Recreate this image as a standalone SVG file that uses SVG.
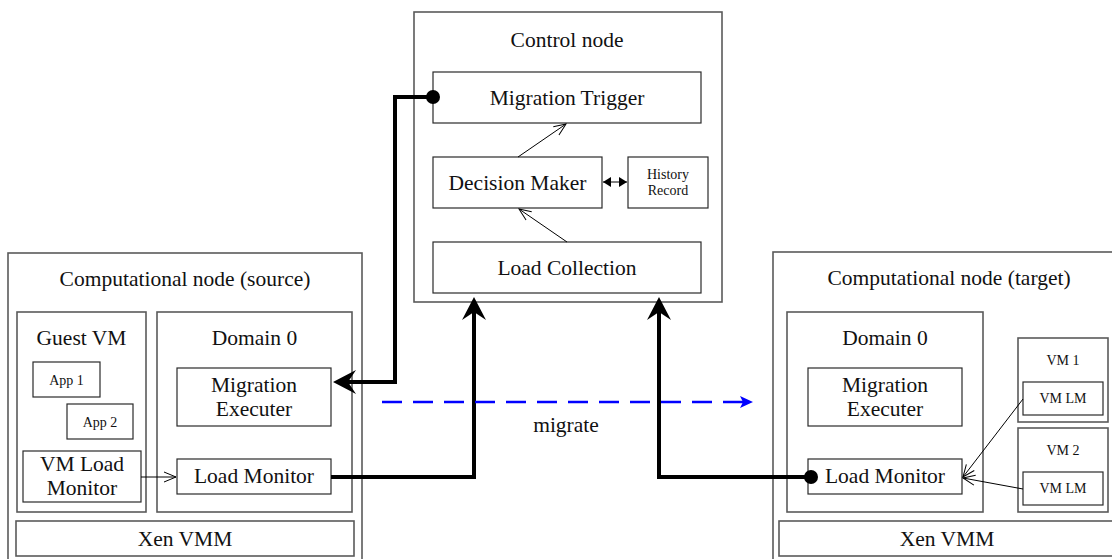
<svg xmlns="http://www.w3.org/2000/svg" width="1112" height="559" viewBox="0 0 1112 559" font-family="'Liberation Serif', 'DejaVu Serif', serif">
  <style>
    .outer { fill: none; stroke: #5a5a5a; stroke-width: 1.6; }
    .box { fill: #ffffff; stroke: #2a2a2a; stroke-width: 1.2; }
    .lbl { font-family: 'Liberation Serif', 'DejaVu Serif', serif; font-size: 21.5px; fill: #111; text-anchor: middle; }
    .sm { font-family: 'Liberation Serif', 'DejaVu Serif', serif; font-size: 14px; fill: #111; text-anchor: middle; }
    .thick { fill: none; stroke: #000; stroke-width: 4; }
    .thin { fill: none; stroke: #000; stroke-width: 1; }
    .dot { fill: #000; }
  </style>
  <defs>
    <marker id="bigHead" markerUnits="userSpaceOnUse" viewBox="-26 -14 30 28" markerWidth="30" markerHeight="28" refX="-10" refY="0" orient="auto" overflow="visible">
      <path d="M0,0 L-23,-12 L-15,0 L-23,12 Z" fill="#000"/>
    </marker>
    <marker id="openHead" markerUnits="userSpaceOnUse" viewBox="-14 -7 16 14" markerWidth="16" markerHeight="14" refX="0" refY="0" orient="auto" overflow="visible">
      <path d="M-12,-5 L0,0 L-12,5" fill="none" stroke="#000" stroke-width="1"/>
    </marker>
    <marker id="smallHead" markerUnits="userSpaceOnUse" viewBox="-9 -5 10 10" markerWidth="10" markerHeight="10" refX="0" refY="0" orient="auto-start-reverse" overflow="visible">
      <path d="M0,0 L-8,-5 L-8,5 Z" fill="#000"/>
    </marker>
    <marker id="blueHead" markerUnits="userSpaceOnUse" viewBox="-14 -7 16 14" markerWidth="16" markerHeight="14" refX="-6" refY="0" orient="auto" overflow="visible">
      <path d="M0,0 L-13,-6 L-10,0 L-13,6 Z" fill="#0000ff"/>
    </marker>
  </defs>

  <!-- Control node -->
  <g id="control-node">
    <rect class="outer" x="414" y="12" width="308" height="290"/>
    <text class="lbl" x="567" y="47">Control node</text>
  </g>
  <g id="migration-trigger">
    <rect class="box" x="433" y="72" width="268" height="51"/>
    <text class="lbl" x="567" y="105">Migration Trigger</text>
  </g>
  <g id="decision-maker">
    <rect class="box" x="433" y="157" width="169" height="51"/>
    <text class="lbl" x="517.5" y="190">Decision Maker</text>
  </g>
  <g id="history-record">
    <rect class="box" x="628" y="157" width="80" height="51"/>
    <text class="sm" x="668" y="179">History</text>
    <text class="sm" x="668" y="195">Record</text>
  </g>
  <g id="load-collection">
    <rect class="box" x="433" y="242" width="268" height="51"/>
    <text class="lbl" x="567" y="275">Load Collection</text>
  </g>

  <!-- Computational node (source) -->
  <g id="source-node">
    <rect class="outer" x="8" y="253" width="354" height="320"/>
    <text class="lbl" x="185" y="286">Computational node (source)</text>
  </g>
  <g id="source-guest-vm">
    <rect class="outer" x="17" y="312" width="129" height="200"/>
    <text class="lbl" x="81.5" y="345">Guest VM</text>
  </g>
  <g id="source-app1">
    <rect class="box" x="33" y="362" width="67" height="35"/>
    <text class="sm" x="66.5" y="384.5">App 1</text>
  </g>
  <g id="source-app2">
    <rect class="box" x="67" y="404" width="66" height="35"/>
    <text class="sm" x="100" y="426.5">App 2</text>
  </g>
  <g id="source-vm-load-monitor">
    <rect class="box" x="23" y="451" width="118" height="51"/>
    <text class="lbl" x="82" y="470.5">VM Load</text>
    <text class="lbl" x="82" y="495">Monitor</text>
  </g>
  <g id="source-domain0">
    <rect class="outer" x="157" y="312" width="195" height="200"/>
    <text class="lbl" x="254.5" y="345">Domain 0</text>
  </g>
  <g id="source-migration-executer">
    <rect class="box" x="177" y="368" width="154" height="58"/>
    <text class="lbl" x="254" y="392">Migration</text>
    <text class="lbl" x="254" y="416">Executer</text>
  </g>
  <g id="source-load-monitor">
    <rect class="box" x="177" y="459" width="154" height="35"/>
    <text class="lbl" x="254" y="483">Load Monitor</text>
  </g>
  <g id="source-xen-vmm">
    <rect class="outer" x="16" y="521" width="338" height="35"/>
    <text class="lbl" x="185" y="546">Xen VMM</text>
  </g>

  <!-- Computational node (target) -->
  <g id="target-node">
    <rect class="outer" x="773" y="252" width="360" height="320"/>
    <text class="lbl" x="949" y="285">Computational node (target)</text>
  </g>
  <g id="target-domain0">
    <rect class="outer" x="787" y="312" width="196" height="200"/>
    <text class="lbl" x="885" y="345">Domain 0</text>
  </g>
  <g id="target-migration-executer">
    <rect class="box" x="808" y="368" width="154" height="58"/>
    <text class="lbl" x="885" y="392">Migration</text>
    <text class="lbl" x="885" y="416">Executer</text>
  </g>
  <g id="target-load-monitor">
    <rect class="box" x="808" y="459" width="154" height="35"/>
    <text class="lbl" x="885" y="483">Load Monitor</text>
  </g>
  <g id="target-vm1">
    <rect class="outer" x="1018" y="338" width="90" height="84"/>
    <text class="sm" x="1063" y="365">VM 1</text>
    <rect class="box" x="1023" y="382" width="80" height="33"/>
    <text class="sm" x="1063" y="403">VM LM</text>
  </g>
  <g id="target-vm2">
    <rect class="outer" x="1018" y="428" width="90" height="84"/>
    <text class="sm" x="1063" y="455">VM 2</text>
    <rect class="box" x="1023" y="472" width="80" height="33"/>
    <text class="sm" x="1063" y="493">VM LM</text>
  </g>
  <g id="target-xen-vmm">
    <rect class="outer" x="779" y="521" width="350" height="35"/>
    <text class="lbl" x="947" y="546">Xen VMM</text>
  </g>

  <!-- Connectors -->
  <g id="connectors">
    <!-- inside the control node -->
    <line class="thin" x1="518" y1="157" x2="566" y2="124" marker-end="url(#openHead)"/>
    <line class="thin" x1="567" y1="242" x2="519" y2="209" marker-end="url(#openHead)"/>
    <line class="thin" x1="603" y1="182" x2="627" y2="182" marker-start="url(#smallHead)" marker-end="url(#smallHead)"/>

    <!-- load reports inside the computational nodes -->
    <line class="thin" x1="141" y1="477" x2="176" y2="477" marker-end="url(#openHead)"/>
    <line class="thin" x1="1023" y1="399" x2="963" y2="477" marker-end="url(#openHead)"/>
    <line class="thin" x1="1023" y1="489" x2="963" y2="478" marker-end="url(#openHead)"/>

    <!-- trigger -> source migration executer -->
    <path class="thick" d="M433,97 L395,97 L395,382 L343,382" marker-end="url(#bigHead)"/>
    <circle class="dot" cx="433" cy="97" r="7"/>

    <!-- source load monitor -> load collection -->
    <path class="thick" d="M331,477 L474,477 L474,307" marker-end="url(#bigHead)"/>

    <!-- target load monitor -> load collection -->
    <path class="thick" d="M811,477 L659,477 L659,307" marker-end="url(#bigHead)"/>
    <circle class="dot" cx="811" cy="477" r="7"/>

    <!-- migration path -->
    <line x1="382" y1="402" x2="747" y2="402" stroke="#0000ff" stroke-width="2.5" stroke-dasharray="20 11" marker-end="url(#blueHead)"/>
    <text class="lbl" x="566" y="432">migrate</text>
  </g>
</svg>
